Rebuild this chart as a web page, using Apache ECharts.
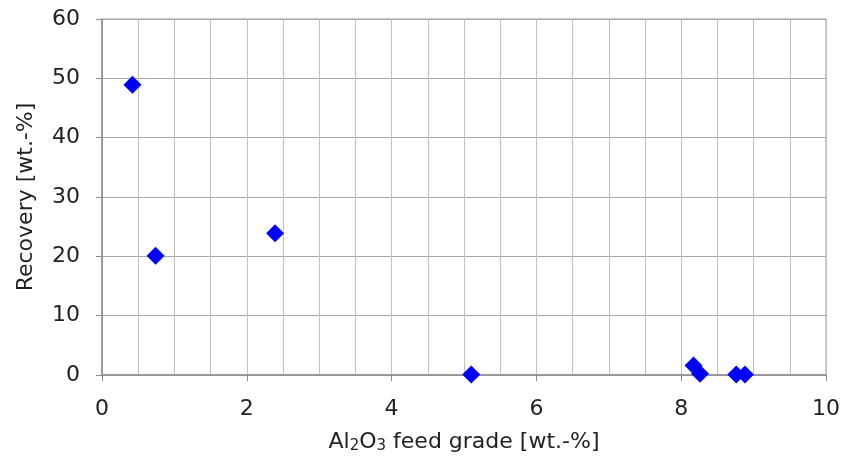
<!DOCTYPE html>
<html><head><meta charset="utf-8">
<script src="https://cdn.jsdelivr.net/npm/echarts@6/dist/echarts.min.js"></script>
<style>html,body{margin:0;padding:0;background:#fff}#c{width:845px;height:461px}</style>
</head><body><div id="c"></div>
<script>
const feedGrade = [0.42, 0.74, 2.39, 5.10, 8.17, 8.26, 8.76, 8.88];
const recovery  = [48.9, 20.1, 23.9, 0.1, 1.6, 0.2, 0.1, 0.1];
const xTicks = [0, 2, 4, 6, 8, 10];
const yTicks = [0, 10, 20, 30, 40, 50, 60];

const chart = echarts.init(document.getElementById('c'));
const font = 'DejaVu Sans, Verdana, sans-serif';
chart.setOption({
  animation: false,
  grid: {left: 102, right: 19, top: 19, bottom: 86, show: true, borderColor: '#a0a0a0', borderWidth: 1},
  xAxis: {
    type: 'value', min: xTicks[0], max: xTicks[xTicks.length-1], interval: 2,
    axisLine: {show: true, onZero: false, lineStyle: {color: '#8c8c8c', width: 1.5}},
    axisTick: {show: true, length: 6, lineStyle: {color: '#8c8c8c'}},
    splitLine: {show: true, lineStyle: {color: '#c0c0c0', width: 1}},
    minorTick: {show: false, splitNumber: 4},
    minorSplitLine: {show: true, lineStyle: {color: '#c0c0c0', width: 1}},
    axisLabel: {fontFamily: font, fontSize: 22, color: '#222', margin: 23},
    name: '{n|Al}{s|2}{n|O}{s|3}{n| feed grade [wt.-%]}',
    nameLocation: 'middle', nameGap: 55,
    nameTextStyle: {rich: {
      n: {fontFamily: font, fontSize: 22, color: '#222'},
      s: {fontFamily: font, fontSize: 15, color: '#222', verticalAlign: 'bottom', padding: [9,0,0,0]}
    }}
  },
  yAxis: {
    type: 'value', min: yTicks[0], max: yTicks[yTicks.length-1], interval: 10,
    axisLine: {show: true, lineStyle: {color: '#8c8c8c', width: 1.5}},
    axisTick: {show: true, length: 6, lineStyle: {color: '#8c8c8c'}},
    splitLine: {show: true, lineStyle: {color: '#a8a8a8', width: 1}},
    axisLabel: {fontFamily: font, fontSize: 22, color: '#222', margin: 22},
    name: 'Recovery [wt.-%]', nameLocation: 'middle', nameGap: 65,
    nameTextStyle: {fontFamily: font, fontSize: 22, color: '#222'}
  },
  series: [{
    type: 'scatter', symbol: 'diamond', symbolSize: 18,
    itemStyle: {color: '#0000ff', opacity: 1},
    data: feedGrade.map((x, i) => [x, recovery[i]])
  }]
});
</script></body></html>
